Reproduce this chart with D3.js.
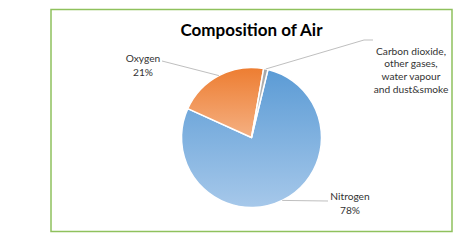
<!DOCTYPE html>
<html>
<head>
<meta charset="utf-8">
<script src="https://cdn.jsdelivr.net/npm/d3@7"></script>
<style>
  html, body { margin: 0; padding: 0; background: #fff; }
  svg { display: block; }
</style>
</head>
<body>
<div id="chart"></div>
<script>
// data
var categories = ["Nitrogen", "Oxygen", "Carbon dioxide, other gases, water vapour and dust&smoke"];
var values = [78, 21, 1];
var labelLines = [
  ["Nitrogen", "78%"],
  ["Oxygen", "21%"],
  ["Carbon dioxide,", "other gases,", "water vapour", "and dust&smoke"]
];

var width = 474, height = 248;
var cx = 251.5, cy = 137.5, radius = 70;

// where each label sits and where its leader line ends
var labelPos = [
  { x: 350, y: 196, lh: 14, lx: 328, ly: 201, elbow: null },
  { x: 143, y: 58, lh: 14, lx: 162, ly: 61, elbow: null },
  { x: 411, y: 51, lh: 12.7, lx: 373, ly: 40, elbow: [364, 40] }
];
var colors = [["#5b9bd5", "#a6c8ea"], ["#ed7d31", "#f5b082"], ["#a5a5a5", "#c9c9c9"]];

var svg = d3.select("#chart").append("svg")
  .attr("width", width)
  .attr("height", height);

svg.append("rect")
  .attr("width", width).attr("height", height)
  .attr("fill", "#fff");

// chart border
svg.append("rect")
  .attr("x", 51).attr("y", 9.5)
  .attr("width", 401).attr("height", 222)
  .attr("fill", "none")
  .attr("stroke", "#8fc15d")
  .attr("stroke-width", 1.5);

var defs = svg.append("defs");
colors.forEach(function (c, i) {
  var g = defs.append("linearGradient")
    .attr("id", "grad" + i)
    .attr("x1", 0).attr("y1", 0).attr("x2", 0).attr("y2", 1);
  g.append("stop").attr("offset", "0%").attr("stop-color", c[0]);
  g.append("stop").attr("offset", "100%").attr("stop-color", c[1]);
});

svg.append("text")
  .attr("x", cx).attr("y", 36)
  .attr("text-anchor", "middle")
  .attr("font-family", "Lato, 'Open Sans', sans-serif")
  .attr("font-weight", "bold")
  .attr("font-size", 17)
  .attr("fill", "#000")
  .text("Composition of Air");

// start so that the 1% slice sits just right of 12 o'clock
var start = 13.6 * Math.PI / 180;
var pie = d3.pie().sort(null).value(function (d) { return d; })
  .startAngle(start).endAngle(start + 2 * Math.PI);
var arcs = pie(values);

var arc = d3.arc().innerRadius(0).outerRadius(radius);

var g = svg.append("g").attr("transform", "translate(" + cx + "," + cy + ")");

g.selectAll("path.slice").data(arcs).enter().append("path")
  .attr("class", "slice")
  .attr("d", arc)
  .attr("fill", function (d, i) { return "url(#grad" + i + ")"; })
  .attr("stroke", "#fff")
  .attr("stroke-width", 1.5)
  .attr("stroke-linejoin", "round");

// leader lines
arcs.forEach(function (d, i) {
  var a = (d.startAngle + d.endAngle) / 2;
  var px = cx + radius * Math.sin(a), py = cy - radius * Math.cos(a);
  var p = labelPos[i];
  var pts = [[px, py]];
  if (p.elbow) pts.push(p.elbow);
  pts.push([p.lx, p.ly]);
  svg.append("polyline")
    .attr("points", pts.map(function (q) { return q.join(","); }).join(" "))
    .attr("fill", "none")
    .attr("stroke", "#bfbfbf")
    .attr("stroke-width", 1);
});

// labels
labelLines.forEach(function (lines, i) {
  var p = labelPos[i];
  var t = svg.append("text")
    .attr("text-anchor", "middle")
    .attr("font-family", "Lato, 'Open Sans', sans-serif")
    .attr("font-size", 10.2)
    .attr("fill", "#333");
  lines.forEach(function (s, k) {
    t.append("tspan")
      .attr("x", p.x)
      .attr("y", p.y + 3.5 + k * p.lh)
      .text(s);
  });
});
</script>
</body>
</html>
